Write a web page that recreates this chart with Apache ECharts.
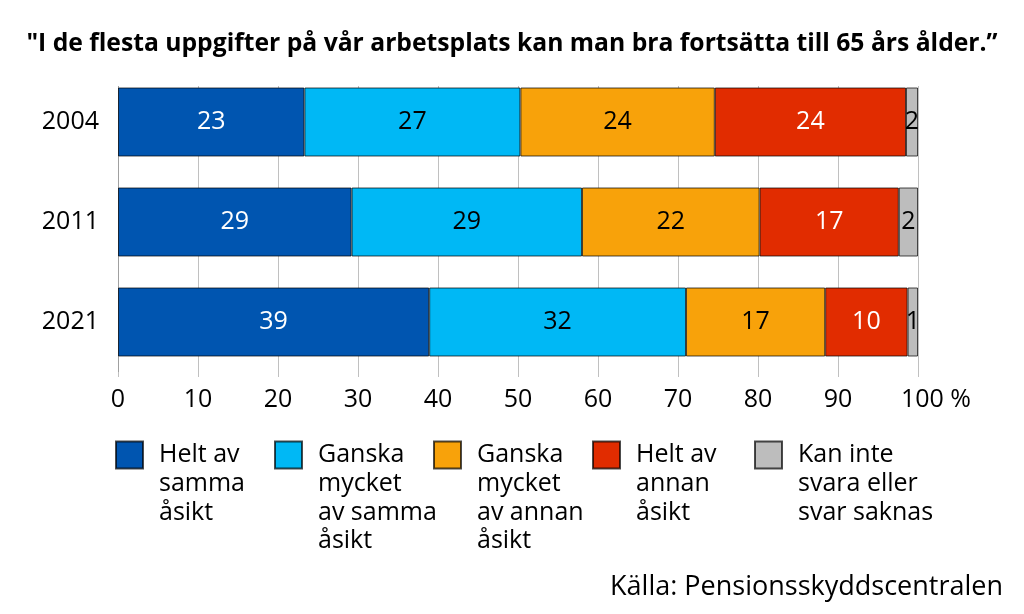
<!DOCTYPE html>
<html>
<head>
<meta charset="utf-8">
<script src="https://cdn.jsdelivr.net/npm/echarts@6/dist/echarts.min.js"></script>
<style>html,body{margin:0;padding:0;background:#fff;}#c{width:1024px;height:614px;}</style>
</head>
<body>
<div id="c"></div>
<script>
var years = ['2004', '2011', '2021'];
var seriesNames = ['Helt av\nsamma\nåsikt', 'Ganska\nmycket\nav samma\nåsikt', 'Ganska\nmycket\nav annan\nåsikt', 'Helt av\nannan\nåsikt', 'Kan inte\nsvara eller\nsvar saknas'];
var heltSamma = [23.3, 29.2, 38.9];
var ganskaSamma = [27.0, 28.8, 32.1];
var ganskaAnnan = [24.3, 22.2, 17.4];
var heltAnnan = [23.9, 17.4, 10.3];
var kanInte = [1.5, 2.4, 1.3];
var xTicks = [0, 10, 20, 30, 40, 50, 60, 70, 80, 90, 100];
var titleText = '"I de flesta uppgifter på vår arbetsplats kan man bra fortsätta till 65 års ålder.”';
var sourceText = 'Källa: Pensionsskyddscentralen';

var colors = ['#0055B0', '#00B8F5', '#F8A20A', '#E12C00', '#BDBDBD'];
var labelColors = ['#ffffff', '#000000', '#000000', '#ffffff', '#000000'];
var values = [heltSamma, ganskaSamma, ganskaAnnan, heltAnnan, kanInte];
var FONT = '"Open Sans"';
var gridLeft = 118, gridTop = 72, gridWidth = 800, gridHeight = 300;
var legendLefts = [115, 274, 433, 592, 754];
var legendIconTop = 441.5;
var LH = 28.7;

var series = values.map(function (v, i) {
  return {
    type: 'bar',
    name: seriesNames[i],
    stack: 'total',
    barWidth: 69,
    data: v,
    z: 3,
    itemStyle: { color: colors[i], borderColor: 'rgba(0,0,0,0.7)', borderWidth: 1 },
    label: {
      show: true,
      position: 'inside',
      color: labelColors[i],
      fontFamily: FONT,
      fontSize: 25,
      formatter: function (p) { return String(Math.round(p.value)); }
    },
    emphasis: { disabled: true }
  };
});

var legends = seriesNames.map(function (n, i) {
  var lines = n.split('\n').length;
  var pre = '';
  for (var k = 0; k < lines - 1; k++) pre += ' \n';
  var blockTop = 13.5 - (2 * lines - 1) * LH / 2;
  return {
    left: legendLefts[i],
    top: legendIconTop + blockTop,
    padding: 0,
    orient: 'vertical',
    itemWidth: 27,
    itemHeight: 27,
    selectedMode: false,
    formatter: function (name) { return pre + name; },
    data: [{
      name: n,
      icon: 'rect',
      textStyle: {
        fontFamily: FONT,
        fontSize: 25,
        color: '#000',
        lineHeight: LH,
        padding: [0, 0, 0, 11]
      }
    }]
  };
});

var chart = echarts.init(document.getElementById('c'), null, { renderer: 'canvas' });
chart.setOption({
  animation: false,
  backgroundColor: '#ffffff',
  title: [{
    text: titleText,
    left: 'center',
    top: 26,
    textStyle: { fontFamily: FONT, fontWeight: 'bold', fontSize: 24.7, color: '#000' }
  }, {
    text: sourceText,
    right: 16,
    top: 569,
    textStyle: { fontFamily: FONT, fontWeight: 'normal', fontSize: 27, color: '#000' }
  }],
  legend: legends,
  grid: { left: gridLeft, top: gridTop, width: gridWidth, height: gridHeight, containLabel: false },
  xAxis: {
    type: 'value',
    min: 0,
    max: 100,
    interval: 10,
    z: 0,
    axisLine: { show: false },
    axisTick: { show: true, length: 5, lineStyle: { color: '#c0c0c0', width: 1 } },
    splitLine: { show: true, lineStyle: { color: '#c0c0c0', width: 1 } },
    axisLabel: {
      margin: 15,
      fontFamily: FONT,
      fontSize: 25,
      color: '#000',
      formatter: function (v) { return v === xTicks[xTicks.length - 1] ? '{p|}' + v + ' %' : String(v); },
      rich: { p: { width: 36 } }
    }
  },
  yAxis: {
    type: 'category',
    data: years,
    inverse: true,
    z: 0,
    axisLine: { show: true, lineStyle: { color: '#a0a0a0', width: 1 } },
    axisTick: { show: false },
    axisLabel: { margin: 19, fontFamily: FONT, fontSize: 25, color: '#000' }
  },
  graphic: [{
    type: 'rect',
    z: 1,
    shape: { x: gridLeft - 3, y: gridTop - 2, width: gridWidth + 6, height: 16 },
    style: { fill: '#ffffff' },
    silent: true
  }],
  series: series
});
</script>
</body>
</html>
